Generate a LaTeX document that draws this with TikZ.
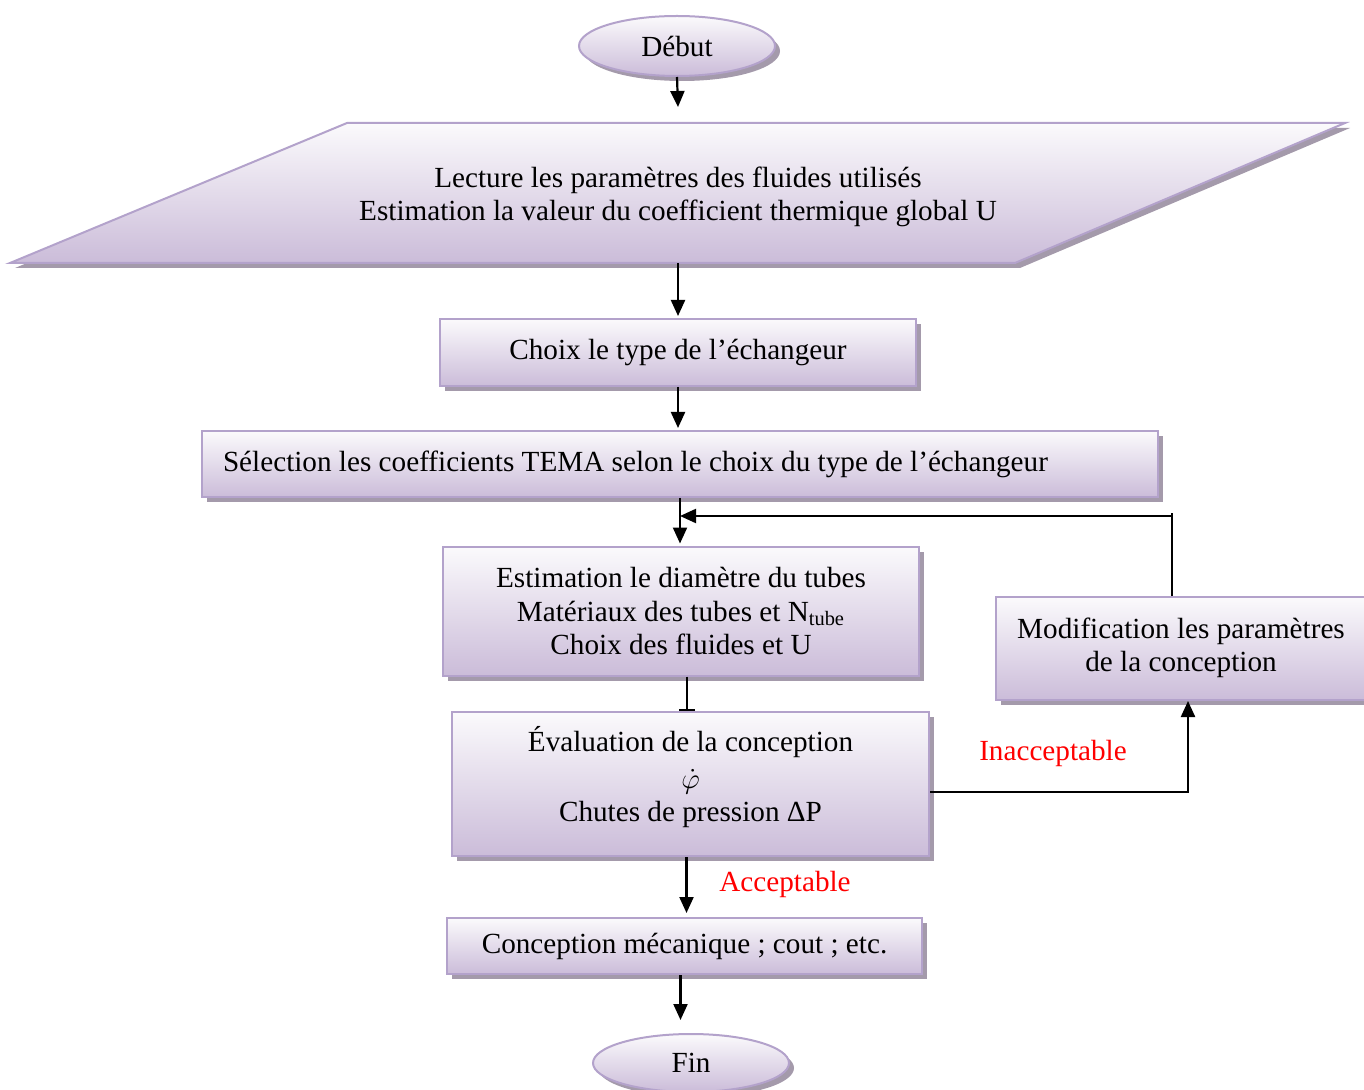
\documentclass[tikz,border=0pt]{standalone}
\usepackage{fontspec}
\setmainfont{Liberation Serif}
\usetikzlibrary{arrows.meta,shapes.geometric,shadows,calc}
\definecolor{boxedge}{HTML}{B3A2CB}
\definecolor{boxtop}{HTML}{FBFAFC}
\definecolor{boxbot}{HTML}{CBBCD9}
\definecolor{boxshade}{HTML}{A49AAB}
\definecolor{lblred}{HTML}{FF0000}

\begin{document}
\begin{tikzpicture}[x=0.5pt,y=-0.5pt,
  font=\fontsize{14.6pt}{16.6pt}\selectfont,
  flowbox/.style={rectangle, draw=boxedge, line width=1pt,
    top color=boxtop, bottom color=boxbot, align=center, inner sep=0pt,
    general shadow={shadow xshift=2.5pt, shadow yshift=-2.5pt, fill=boxshade}},
  termbox/.style={flowbox, ellipse, minimum width=98pt},
  flow/.style={line width=1.1pt, -{Triangle[width=7pt,length=8pt]}},
  stopline/.style={line width=1.1pt, -{Bar[width=8pt]}},
  plainline/.style={line width=1.1pt},
  verdict/.style={text=lblred, inner sep=0pt}
]
\useasboundingbox (0,0) rectangle (1364,1090);

% start terminal
\node[termbox, minimum height=30pt] (debut) at (677,46) {Début};
\coordinate (debutout) at (678,107);

% input parallelogram
\fill[boxshade, shift={(2.5pt,-2.5pt)}] (10,263) -- (347,123) -- (1345,123) -- (1015,263) -- cycle;
\shade[top color=boxtop, bottom color=boxbot, draw=boxedge, line width=1pt]
  (10,263) -- (347,123) -- (1345,123) -- (1015,263) -- cycle;
\node[align=center, minimum height=66pt, inner sep=0pt] (lect) at (678,197)
  {Lecture les paramètres des fluides utilisés\\Estimation la valeur du coefficient thermique global U};

% process boxes
\node[flowbox, minimum width=238pt, minimum height=33.5pt] (choix) at (678,352.5)
  {Choix le type de l’échangeur};
\node[flowbox, minimum width=478pt, minimum height=33pt, text width=457pt, align=flush left] (selec) at (680,464)
  {Sélection les coefficients TEMA selon le choix du type de l’échangeur};
\node[flowbox, minimum width=238pt, minimum height=64.5pt] (estim) at (681,611)
  {Estimation le diamètre du tubes\\Matériaux des tubes et N\textsubscript{tube}\\Choix des fluides et U};
\node[flowbox, minimum width=238.5pt, minimum height=72pt] (eval) at (690.5,784)
  {Évaluation de la conception\\[2pt]$\dot{\varphi}$\\Chutes de pression ΔP\\[-6.6pt]};
\node[flowbox, minimum width=185pt, minimum height=51.5pt] (modif) at (1181,648.5)
  {Modification les paramètres\\de la conception\\[-13pt]};
\node[flowbox, minimum width=237.5pt, minimum height=28pt] (conc) at (684.5,946)
  {Conception mécanique ; cout ; etc.};

% end terminal
\node[termbox, minimum height=29pt] (fin) at (691,1063) {Fin};

% decision labels
\node[verdict] (bad) at (1053,753) {Inacceptable};
\node[verdict] (good) at (785,884) {Acceptable};

% connectors
\draw[flow] (debut.south) -- (debutout);
\draw[flow, shorten >=1pt] (lect.south) -- (choix.north);
\draw[flow, shorten >=1pt] (choix.south) -- (choix.south |- selec.north);
\draw[flow, shorten >=1pt] (selec.south) -- (selec.south |- estim.north);
\coordinate (loop) at (1172,516);
\draw[plainline] (modif.north -| loop) -- ([yshift=1.5pt]loop);
\draw[flow] (loop) -- (loop -| selec.south);
\draw[stopline] ([xshift=3pt]estim.south) -- ([xshift=3pt]estim.south |- eval.north);
\draw[flow, shorten >=2pt] ([xshift=1pt]conc.north |- eval.south) -- ([xshift=1pt]conc.north);
\draw[flow] ([yshift=-4pt]eval.east) -| ([xshift=3.5pt]modif.south);
\draw[flow] ([xshift=-2pt]conc.south) -- ([xshift=-2pt,yshift=6.5pt]conc.south |- fin.north);
\end{tikzpicture}
\end{document}
